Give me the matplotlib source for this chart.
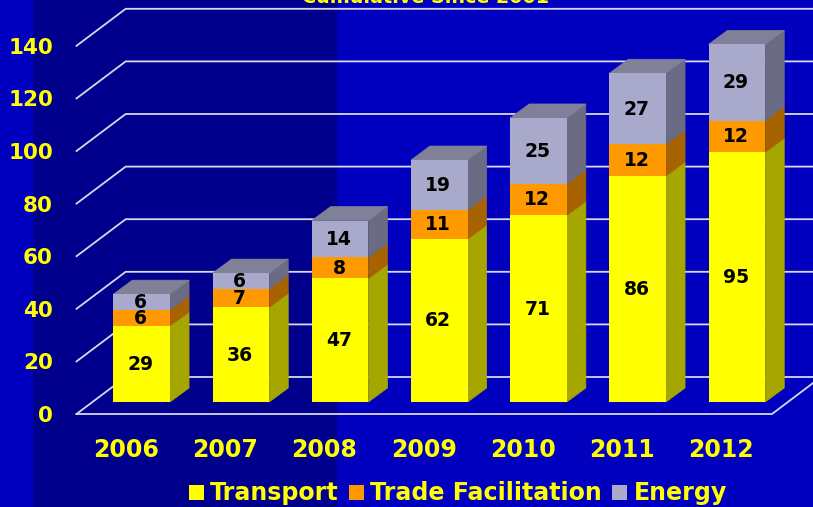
import matplotlib
matplotlib.use("Agg")
import matplotlib.pyplot as plt
from matplotlib.patches import Polygon, Rectangle

# --------------------------------
# Data
# --------------------------------
years = ["2006", "2007", "2008", "2009", "2010", "2011", "2012"]
transport = [29, 36, 47, 62, 71, 86, 95]
trade = [6, 7, 8, 11, 12, 12, 12]
energy = [6, 6, 14, 19, 25, 27, 29]
y_ticks = [0, 20, 40, 60, 80, 100, 120, 140]
series_names = ["Transport", "Trade Facilitation", "Energy"]

W, H = 813, 507
PX_X = 99.2    # pixels per category
PX_Y = 2.63    # pixels per unit
X0 = 141.7     # pixel of first bar centre
Y0 = 402.0     # pixel of value 0 at bar front

YELLOW = "#FFFF00"
plt.rcParams["font.family"] = ["DejaVu Sans"]

fig = plt.figure(figsize=(W / 100, H / 100), dpi=100, facecolor="#0000BE")
ax = fig.add_axes([0, 0, 1, 1])
ax.set_xlim(-X0 / PX_X, (W - X0) / PX_X)
ax.set_ylim((Y0 - H) / PX_Y, Y0 / PX_Y)
ax.axis("off")


def xd(px):
    return px / PX_X


def yd(px):
    return px / PX_Y


# --------------------------------
# Background band
# --------------------------------
ax.axvspan(xd(33 - X0), xd(337 - X0), color="#00008C", lw=0, zorder=0)

# --------------------------------
# Wall grid lines and floor
# --------------------------------
floor_front = yd(-12)      # front edge of floor, below bar base
wall_dy = yd(37)
left_front = xd(76.5 - X0)
left_back = xd(125.7 - X0)
right_front = xd(772 - X0)
right_back = xd(821 - X0)
grid_col = "#D8D8EC"

for t in y_ticks:
    yf = floor_front + t
    ax.plot([left_front, left_back, right_back], [yf, yf + wall_dy, yf + wall_dy],
            color=grid_col, lw=1.3, zorder=1, solid_joinstyle="miter")
    ax.text(xd(53 - X0), yf - yd(8), str(t), color=YELLOW, fontsize=15.5, fontweight="bold",
            ha="right", va="baseline", zorder=5)
ax.plot([left_front, right_front, right_back], [floor_front, floor_front, floor_front + wall_dy],
        color=grid_col, lw=1.3, zorder=1, solid_joinstyle="miter")

# --------------------------------
# Stacked bars with fake 3D sides
# --------------------------------
bar_w = 56.7 / PX_X
dx = xd(19)
dy = yd(14)
stacks = [
    (transport, YELLOW, "#A6A600"),
    (trade, "#FF9900", "#A66300"),
    (energy, "#A9A9CC", "#6B6B84"),
]

bottom = [0] * len(years)
for vals, col, side in stacks:
    for i, v in enumerate(vals):
        xr = i + bar_w / 2
        b = bottom[i]
        ax.add_patch(Polygon([(xr, b), (xr + dx, b + dy), (xr + dx, b + v + dy), (xr, b + v)],
                             closed=True, fc=side, ec=side, lw=0.5, zorder=3))
        ax.text(i - 0.012, b + v / 2 + yd(1.5), str(v), color="black", fontsize=13.5,
                fontweight="bold", ha="center", va="center_baseline", zorder=6)
    ax.bar(range(len(years)), vals, bar_w, bottom=bottom, color=col, lw=0, zorder=4)
    bottom = [b + v for b, v in zip(bottom, vals)]

# top faces
for i, total in enumerate(bottom):
    xl, xr = i - bar_w / 2, i + bar_w / 2
    ax.add_patch(Polygon([(xl, total), (xr, total), (xr + dx, total + dy), (xl + dx, total + dy)],
                         closed=True, fc="#808098", ec="#808098", lw=0.5, zorder=3))

# --------------------------------
# Category labels
# --------------------------------
for i, y in enumerate(years):
    ax.text(i - 0.158, yd(Y0 - 457), y, color=YELLOW, fontsize=17, fontweight="bold",
            ha="center", va="baseline", zorder=5)

# --------------------------------
# Title (clipped by top edge) and legend
# --------------------------------
ax.text(xd(426 - X0), yd(Y0 - 3), "Cumulative Since 2001", color=YELLOW, fontsize=13.8,
        fontweight="bold", ha="center", va="baseline", zorder=5)

legend_x = [189, 349, 612]
legend_text_x = [210, 370, 634]
for lx, tx, name, (_, col, _) in zip(legend_x, legend_text_x, series_names, stacks):
    ax.add_patch(Rectangle((xd(lx - X0), yd(Y0 - 500)), xd(15), yd(15), fc=col, ec="none", zorder=5))
    ax.text(xd(tx - X0), yd(Y0 - 500), name, color=YELLOW, fontsize=17.1, fontweight="bold",
            ha="left", va="baseline", zorder=5)

fig.savefig("out.png", dpi=100, facecolor=fig.get_facecolor())
plt.close(fig)
